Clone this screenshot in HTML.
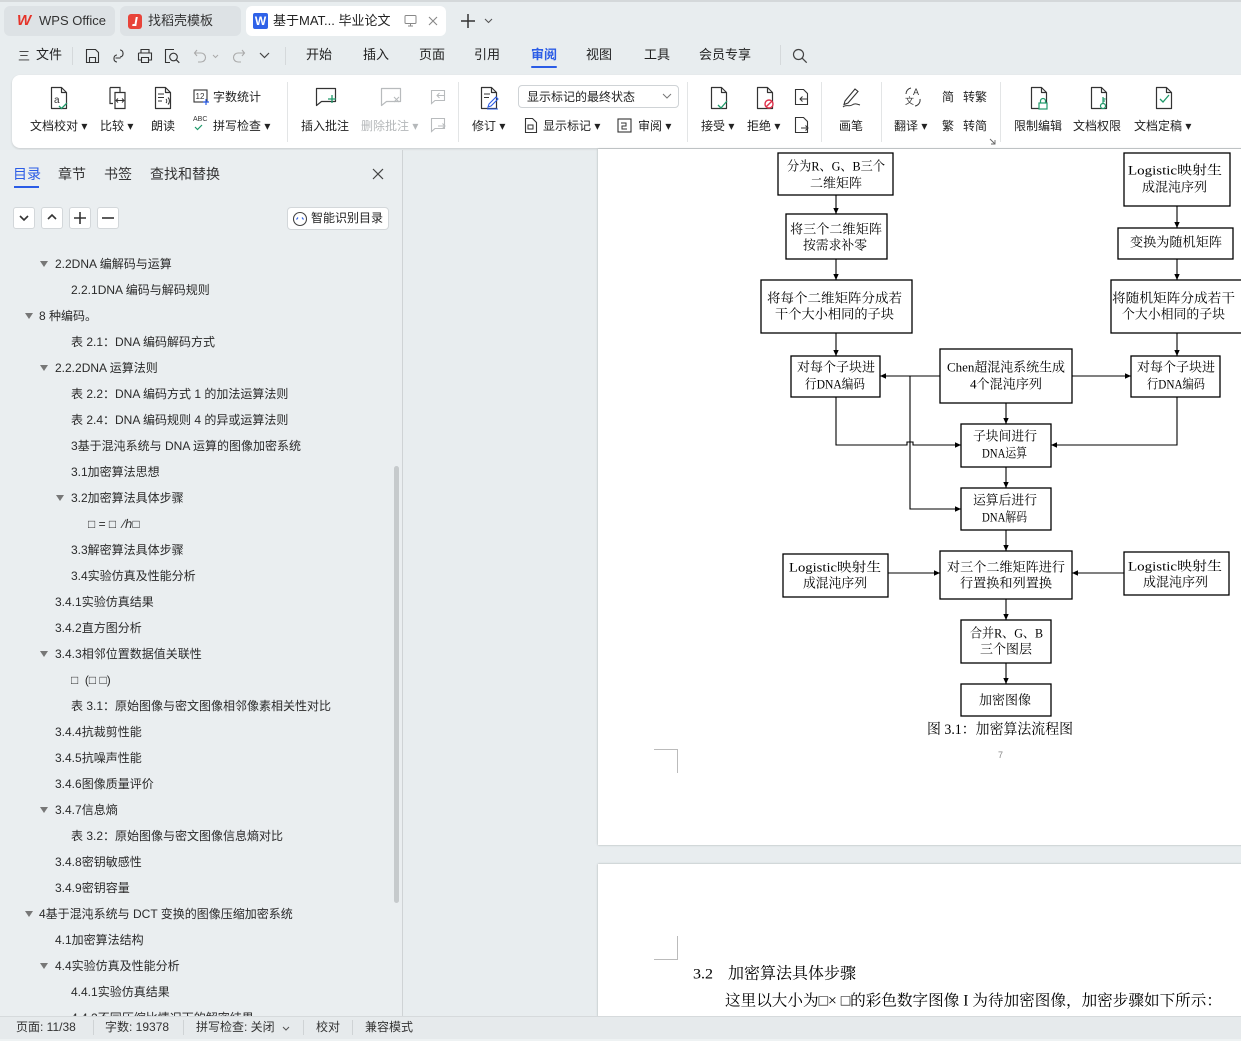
<!DOCTYPE html>
<html><head><meta charset="utf-8">
<style>
*{margin:0;padding:0;box-sizing:border-box}
body{width:1241px;height:1041px;overflow:hidden;background:#e8edef;font-family:"Liberation Sans","Noto Sans CJK SC",sans-serif;color:#222;position:relative}
.a{position:absolute;white-space:nowrap}
.t13{font-size:13px;line-height:16px}
.t12{font-size:12px;line-height:16px}
.toc{position:absolute;font-size:12px;line-height:16px;color:#2a2a2a;white-space:nowrap}
.tri{position:absolute;width:0;height:0;border-left:4px solid transparent;border-right:4px solid transparent;border-top:6px solid #777}
.sep{position:absolute;width:1px;background:#d5d9db}
.btn{position:absolute;width:22px;height:22px;border:1px solid #d3d7da;border-radius:3px;background:#fff}
svg.i{position:absolute;overflow:visible}
</style>
</head><body>

<svg width="0" height="0" style="position:absolute">
<defs>
<symbol id="doc" viewBox="0 0 20 24"><path d="M2.5 1.5h10l5 5v16h-15z M12.5 1.5v5h5" fill="none" stroke="#333" stroke-width="1.2" stroke-linejoin="round"/></symbol>
<symbol id="docg" viewBox="0 0 20 24"><path d="M2.5 1.5h10l5 5v16h-15z M12.5 1.5v5h5" fill="none" stroke="#b5b8ba" stroke-width="1.2" stroke-linejoin="round"/></symbol>
<symbol id="bub" viewBox="0 0 22 20"><path d="M1.5 1.5h19v13h-14l-5 4z" fill="none" stroke="#333" stroke-width="1.2" stroke-linejoin="round"/></symbol>
<symbol id="bubg" viewBox="0 0 22 20"><path d="M1.5 1.5h19v13h-14l-5 4z" fill="none" stroke="#b8bbbd" stroke-width="1.2" stroke-linejoin="round"/></symbol>
</defs>
</svg>

<!-- top title bar -->
<div class="a" style="left:0;top:0;width:1241px;height:2px;background:#d4d8da"></div>
<div class="a" style="left:4px;top:6px;width:111px;height:30px;background:#dde2e5;border-radius:6px"></div>
<div class="a" style="left:17px;top:12px;font:bold 15px 'Liberation Sans',sans-serif;color:#e5342a;font-style:italic">W</div>
<div class="a t13" style="left:39px;top:13px;color:#333">WPS Office</div>
<div class="a" style="left:120px;top:6px;width:121px;height:30px;background:#dde2e5;border-radius:6px"></div>
<div class="a" style="left:128px;top:14px;width:14px;height:15px;background:#e8443a;border-radius:3px"></div>
<div class="a" style="left:133px;top:17px;width:4px;height:9px;border-right:2px solid #fff;border-bottom:2px solid #fff;transform:skewX(-10deg)"></div>
<div class="a t13" style="left:148px;top:13px;color:#333">找稻壳模板</div>
<div class="a" style="left:246px;top:6px;width:200px;height:30px;background:#fff;border-radius:6px"></div>
<div class="a" style="left:253px;top:13px;width:15px;height:16px;background:#2f62e8;border-radius:2px;color:#fff;font:bold 12px/16px 'Liberation Sans',sans-serif;text-align:center">W</div>
<div class="a t13" style="left:273px;top:13px;color:#222">基于MAT... 毕业论文</div>
<svg class="i" style="left:404px;top:14px" width="13" height="13"><rect x="1" y="1.5" width="11" height="8" rx="1" fill="none" stroke="#888" stroke-width="1"/><path d="M6.5 9.5v2M4 12h5" stroke="#888"/></svg>
<svg class="i" style="left:428px;top:16px" width="10" height="10"><path d="M1 1l8 8M9 1l-8 8" stroke="#888" stroke-width="1.1"/></svg>
<svg class="i" style="left:461px;top:14px" width="14" height="14"><path d="M7 0v14M0 7h14" stroke="#333" stroke-width="1.5"/></svg>
<svg class="i" style="left:484px;top:18px" width="9" height="6"><path d="M1 1l3.5 3.5L8 1" fill="none" stroke="#555" stroke-width="1.1"/></svg>

<!-- menu row -->
<div class="a" style="left:18px;top:48px;font-size:12px;line-height:16px;color:#333">三</div>
<div class="a t13" style="left:36px;top:47px;color:#222">文件</div>
<div class="sep" style="left:72px;top:47px;height:18px"></div>
<svg class="i" style="left:85px;top:48px" width="15" height="16"><path d="M1.5 1.5h9l3 3v10h-12z M4.5 14.5v-5h6v5" fill="none" stroke="#333" stroke-width="1.1"/></svg>
<svg class="i" style="left:111px;top:48px" width="14" height="16"><path d="M9 2a3 3 0 0 1 3 3v1a3 3 0 0 1-3 3M6 7a3 3 0 0 0-3 3v1a3 3 0 0 0 3 3M4.5 10h5" fill="none" stroke="#333" stroke-width="1.1"/></svg>
<svg class="i" style="left:137px;top:48px" width="16" height="16"><path d="M4 5V1.5h8V5M1.5 5h13v7h-3M4.5 12h-3V5M4.5 9.5h7v5h-7z" fill="none" stroke="#333" stroke-width="1.1"/></svg>
<svg class="i" style="left:164px;top:48px" width="16" height="16"><path d="M10 1.5H1.5v13H6" fill="none" stroke="#333" stroke-width="1.1"/><circle cx="9.5" cy="9" r="3.8" fill="none" stroke="#333" stroke-width="1.1"/><path d="M12.3 11.8l3 3" stroke="#333" stroke-width="1.2"/></svg>
<svg class="i" style="left:193px;top:48px" width="14" height="16"><path d="M4 2L1.5 5 4 8M1.5 5H8a4.5 4.5 0 0 1 0 9H5" fill="none" stroke="#aaa" stroke-width="1.1"/></svg>
<svg class="i" style="left:212px;top:54px" width="7" height="5"><path d="M1 1l2.5 2.5L6 1" fill="none" stroke="#aaa"/></svg>
<svg class="i" style="left:232px;top:48px" width="14" height="16"><path d="M10 2l2.5 3L10 8M12.5 5H6a4.5 4.5 0 0 0 0 9h3" fill="none" stroke="#aaa" stroke-width="1.1"/></svg>
<svg class="i" style="left:259px;top:52px" width="11" height="7"><path d="M1 1l4.5 4.5L10 1" fill="none" stroke="#444" stroke-width="1.2"/></svg>
<div class="sep" style="left:285px;top:47px;height:18px"></div>
<div class="a t13" style="left:306px;top:47px;color:#222">开始</div>
<div class="a t13" style="left:363px;top:47px;color:#222">插入</div>
<div class="a t13" style="left:419px;top:47px;color:#222">页面</div>
<div class="a t13" style="left:474px;top:47px;color:#222">引用</div>
<div class="a t13" style="left:531px;top:47px;color:#2b5ce6;font-weight:bold">审阅</div>
<div class="a" style="left:531px;top:66px;width:26px;height:2px;background:#2b5ce6;border-radius:1px"></div>
<div class="a t13" style="left:586px;top:47px;color:#222">视图</div>
<div class="a t13" style="left:644px;top:47px;color:#222">工具</div>
<div class="a t13" style="left:699px;top:47px;color:#222">会员专享</div>
<div class="sep" style="left:780px;top:45px;height:20px"></div>
<svg class="i" style="left:792px;top:48px" width="16" height="16"><circle cx="6.5" cy="6.5" r="5" fill="none" stroke="#444" stroke-width="1.2"/><path d="M10.2 10.2l4.5 4.5" stroke="#444" stroke-width="1.3"/></svg>

<!-- ribbon -->
<div class="a" style="left:12px;top:75px;width:1240px;height:73px;background:#fff;border-radius:8px 0 0 8px;box-shadow:0 1px 2px rgba(0,0,0,.14)"></div>
<svg class="i" style="left:49px;top:86px" width="20" height="24"><use href="#doc" width="20" height="24"/><text x="5" y="17" font-size="10" font-family="Liberation Sans" fill="#333">a</text><path d="M10 20l2.5 2.5L18 17" fill="none" stroke="#1f9a6a" stroke-width="1.3"/></svg>
<div class="a t12" style="left:30px;top:118px">文档校对 ▾</div>
<svg class="i" style="left:107px;top:86px" width="20" height="24"><path d="M3 1.5h10v5M3 1.5v16h3M8 6.5h10v16H8z" fill="none" stroke="#333" stroke-width="1.2"/><path d="M9.5 14.5h7M11 12.5l-2 2 2 2M15 12.5l2 2-2 2" fill="none" stroke="#333" stroke-width="1"/></svg>
<div class="a t12" style="left:100px;top:118px">比较 ▾</div>
<svg class="i" style="left:153px;top:86px" width="20" height="24"><use href="#doc" width="20" height="24"/><path d="M5 8h6M5 11.5h6M5 15h4M13 13a3 3 0 0 1 0 4M15 11.5a5 5 0 0 1 0 7" fill="none" stroke="#333" stroke-width="1"/></svg>
<div class="a t12" style="left:151px;top:118px">朗读</div>
<svg class="i" style="left:193px;top:89px" width="16" height="16"><rect x="1" y="1" width="13" height="12" fill="none" stroke="#333" stroke-width="1.1"/><text x="2.5" y="10" font-size="8" font-family="Liberation Sans" fill="#333">12</text><path d="M13 10v6M10 13h6" stroke="#2b5ce6" stroke-width="1.2"/></svg>
<div class="a t12" style="left:213px;top:89px">字数统计</div>
<div class="a" style="left:193px;top:116px;font:7px 'Liberation Sans',sans-serif;color:#333">ABC</div>
<svg class="i" style="left:194px;top:124px" width="10" height="7"><path d="M1 3l2.5 2.5L8 1" fill="none" stroke="#1f9a6a" stroke-width="1.2"/></svg>
<div class="a t12" style="left:213px;top:118px">拼写检查 ▾</div>
<div class="sep" style="left:287px;top:82px;height:60px;background:#e3e5e6"></div>
<svg class="i" style="left:315px;top:87px" width="22" height="20"><use href="#bub" width="22" height="20"/><path d="M13 12h8M17 8v8" stroke="#1f9a6a" stroke-width="1.3"/></svg>
<div class="a t12" style="left:301px;top:118px">插入批注</div>
<svg class="i" style="left:380px;top:87px" width="22" height="20"><use href="#bubg" width="22" height="20"/><path d="M14 10l5 5M19 10l-5 5" stroke="#b8bbbd" stroke-width="1.1"/></svg>
<div class="a t12" style="left:361px;top:118px;color:#b5b8ba">删除批注 ▾</div>
<svg class="i" style="left:430px;top:89px" width="16" height="16"><path d="M1.5 1.5h13v10H5l-3.5 3z" fill="none" stroke="#b8bbbd" stroke-width="1.1"/><path d="M7 6.5h7M9.5 4l-2.5 2.5 2.5 2.5" fill="none" stroke="#b8bbbd"/></svg>
<svg class="i" style="left:430px;top:117px" width="16" height="16"><path d="M1.5 1.5h13v10H5l-3.5 3z" fill="none" stroke="#b8bbbd" stroke-width="1.1"/><path d="M8 9h7M12.5 6.5l2.5 2.5-2.5 2.5" fill="none" stroke="#b8bbbd"/></svg>
<div class="sep" style="left:458px;top:82px;height:60px;background:#e3e5e6"></div>
<svg class="i" style="left:479px;top:86px" width="20" height="24"><use href="#doc" width="20" height="24"/><path d="M5 8h6M5 11.5h5" stroke="#333"/><path d="M9 21l1-3 7-7 2 2-7 7zM8 23h11" fill="none" stroke="#2b5ce6" stroke-width="1.1"/></svg>
<div class="a t12" style="left:472px;top:118px">修订 ▾</div>
<div class="a" style="left:518px;top:85px;width:161px;height:23px;border:1px solid #cfd3d6;border-radius:4px;background:#fff"></div>
<div class="a t12" style="left:527px;top:89px;color:#222">显示标记的最终状态</div>
<svg class="i" style="left:662px;top:93px" width="10" height="6"><path d="M1 1l4 4 4-4" fill="none" stroke="#777"/></svg>
<svg class="i" style="left:524px;top:117px" width="14" height="17"><path d="M1.5 1.5h7l4 4v10h-11z" fill="none" stroke="#333" stroke-width="1.1"/><path d="M4 8h5v4H4z" fill="none" stroke="#333"/></svg>
<div class="a t12" style="left:543px;top:118px">显示标记 ▾</div>
<svg class="i" style="left:617px;top:118px" width="15" height="15"><rect x="1" y="1" width="13" height="13" fill="none" stroke="#333" stroke-width="1.1"/><path d="M4 5h5v3H5v3h5" fill="none" stroke="#333"/></svg>
<div class="a t12" style="left:638px;top:118px">审阅 ▾</div>
<div class="sep" style="left:687px;top:82px;height:60px;background:#e3e5e6"></div>
<svg class="i" style="left:709px;top:86px" width="20" height="24"><use href="#doc" width="20" height="24"/><path d="M9 19l3 3 6-7" fill="none" stroke="#1f9a6a" stroke-width="1.3"/></svg>
<div class="a t12" style="left:701px;top:118px">接受 ▾</div>
<svg class="i" style="left:755px;top:86px" width="20" height="24"><use href="#doc" width="20" height="24"/><circle cx="14" cy="18" r="4" fill="#fff" stroke="#e0314b" stroke-width="1.4"/><path d="M11.2 20.8l5.6-5.6" stroke="#e0314b" stroke-width="1.4"/></svg>
<div class="a t12" style="left:747px;top:118px">拒绝 ▾</div>
<svg class="i" style="left:794px;top:88px" width="15" height="18"><path d="M1.5 1.5h8l4 4v11h-12z" fill="none" stroke="#333" stroke-width="1.1"/><path d="M6 11h7M8.5 8.5L6 11l2.5 2.5" fill="none" stroke="#333"/></svg>
<svg class="i" style="left:794px;top:116px" width="15" height="18"><path d="M1.5 1.5h8l4 4v11h-12z" fill="none" stroke="#333" stroke-width="1.1"/><path d="M7 12h7M11.5 9.5L14 12l-2.5 2.5" fill="none" stroke="#333"/></svg>
<div class="sep" style="left:821px;top:82px;height:60px;background:#e3e5e6"></div>
<svg class="i" style="left:840px;top:86px" width="22" height="22"><path d="M5 15L15 3l3 2.5L8 17l-4 1.5z" fill="none" stroke="#333" stroke-width="1.1"/><path d="M3 21c3-3 6 0 9-2s5-1 8 0" fill="none" stroke="#333" stroke-width="1"/></svg>
<div class="a t12" style="left:839px;top:118px">画笔</div>
<div class="sep" style="left:881px;top:82px;height:60px;background:#e3e5e6"></div>
<svg class="i" style="left:903px;top:86px" width="20" height="22"><text x="10" y="9" font-size="9" font-family="Liberation Sans" fill="#333">A</text><text x="2" y="18" font-size="9" font-family="Noto Sans CJK SC" fill="#333">文</text><path d="M3 8a6 6 0 0 1 5-6M17 13a6 6 0 0 1-5 7" fill="none" stroke="#333"/></svg>
<div class="a t12" style="left:894px;top:118px">翻译 ▾</div>
<div class="a t12" style="left:942px;top:89px">简</div>
<div class="a t12" style="left:963px;top:89px">转繁</div>
<div class="a t12" style="left:942px;top:118px">繁</div>
<div class="a t12" style="left:963px;top:118px">转简</div>
<svg class="i" style="left:989px;top:138px" width="7" height="7"><path d="M1 1l5 5M6 2v4H2" fill="none" stroke="#666" stroke-width=".9"/></svg>
<div class="sep" style="left:1000px;top:82px;height:60px;background:#e3e5e6"></div>
<svg class="i" style="left:1029px;top:86px" width="20" height="24"><use href="#doc" width="20" height="24"/><rect x="10" y="17" width="8" height="6" fill="#fff" stroke="#1f9a6a" stroke-width="1.2"/><path d="M11.5 17v-2a2.5 2.5 0 0 1 5 0v2" fill="none" stroke="#1f9a6a" stroke-width="1.2"/></svg>
<div class="a t12" style="left:1014px;top:118px">限制编辑</div>
<svg class="i" style="left:1089px;top:86px" width="20" height="24"><use href="#doc" width="20" height="24"/><circle cx="14" cy="20" r="2.5" fill="#fff" stroke="#1f9a6a" stroke-width="1.2"/><path d="M14 17.5V11M14 13h2.5M14 15h2" fill="none" stroke="#1f9a6a" stroke-width="1.2"/></svg>
<div class="a t12" style="left:1073px;top:118px">文档权限</div>
<svg class="i" style="left:1154px;top:86px" width="20" height="24"><use href="#doc" width="20" height="24"/><path d="M6 13l3 3 6-7" fill="none" stroke="#1f9a6a" stroke-width="1.3"/></svg>
<div class="a t12" style="left:1134px;top:118px">文档定稿 ▾</div>

<!-- left panel -->
<div class="a" style="left:0;top:150px;width:403px;height:866px;background:#eaeef0;border-right:1px solid #cfd3d5"></div>
<div class="a" style="left:13px;top:165px;font-size:14px;line-height:18px;color:#2b5ce6">目录</div>
<div class="a" style="left:14px;top:186px;width:25px;height:2px;background:#2b5ce6"></div>
<div class="a" style="left:58px;top:165px;font-size:14px;line-height:18px;color:#333">章节</div>
<div class="a" style="left:104px;top:165px;font-size:14px;line-height:18px;color:#333">书签</div>
<div class="a" style="left:150px;top:165px;font-size:14px;line-height:18px;color:#333">查找和替换</div>
<svg class="i" style="left:372px;top:168px" width="12" height="12"><path d="M1 1l10 10M11 1L1 11" stroke="#444" stroke-width="1.2"/></svg>
<div class="btn" style="left:13px;top:207px"></div>
<svg class="i" style="left:19px;top:215px" width="10" height="6"><path d="M1 1l4 4 4-4" fill="none" stroke="#333" stroke-width="1.6"/></svg>
<div class="btn" style="left:41px;top:207px"></div>
<svg class="i" style="left:47px;top:214px" width="10" height="6"><path d="M1 5l4-4 4 4" fill="none" stroke="#333" stroke-width="1.6"/></svg>
<div class="btn" style="left:69px;top:207px"></div>
<svg class="i" style="left:74px;top:212px" width="12" height="12"><path d="M6 0v12M0 6h12" stroke="#333" stroke-width="1.6"/></svg>
<div class="btn" style="left:97px;top:207px"></div>
<svg class="i" style="left:102px;top:212px" width="12" height="12"><path d="M0 6h12" stroke="#333" stroke-width="1.6"/></svg>
<div class="a" style="left:287px;top:207px;width:102px;height:23px;border:1px solid #d3d7da;border-radius:4px;background:#fff"></div>
<svg class="i" style="left:292px;top:211px" width="16" height="16"><circle cx="8" cy="8" r="6.5" fill="none" stroke="#444" stroke-width="1.1"/><path d="M4.5 8.5l1.5-2M11.5 8.5L10 6.5" stroke="#2b5ce6" stroke-width="1.1"/></svg>
<div class="a t12" style="left:311px;top:210px;color:#222">智能识别目录</div>

<div class="tri" style="left:40px;top:261px"></div><div class="toc" style="left:55px;top:256px">2.2DNA 编解码与运算</div>
<div class="toc" style="left:71px;top:282px">2.2.1DNA 编码与解码规则</div>
<div class="tri" style="left:25px;top:313px"></div><div class="toc" style="left:39px;top:308px">8 种编码。</div>
<div class="toc" style="left:71px;top:334px">表 2.1：DNA 编码解码方式</div>
<div class="tri" style="left:40px;top:365px"></div><div class="toc" style="left:55px;top:360px">2.2.2DNA 运算法则</div>
<div class="toc" style="left:71px;top:386px">表 2.2：DNA 编码方式 1 的加法运算法则</div>
<div class="toc" style="left:71px;top:412px">表 2.4：DNA 编码规则 4 的异或运算法则</div>
<div class="toc" style="left:71px;top:438px">3基于混沌系统与 DNA 运算的图像加密系统</div>
<div class="toc" style="left:71px;top:464px">3.1加密算法思想</div>
<div class="tri" style="left:56px;top:495px"></div><div class="toc" style="left:71px;top:490px">3.2加密算法具体步骤</div>
<div class="toc" style="left:88px;top:516px">□ = □ &nbsp;⁄ℎ□</div>
<div class="toc" style="left:71px;top:542px">3.3解密算法具体步骤</div>
<div class="toc" style="left:71px;top:568px">3.4实验仿真及性能分析</div>
<div class="toc" style="left:55px;top:594px">3.4.1实验仿真结果</div>
<div class="toc" style="left:55px;top:620px">3.4.2直方图分析</div>
<div class="tri" style="left:40px;top:651px"></div><div class="toc" style="left:55px;top:646px">3.4.3相邻位置数据值关联性</div>
<div class="toc" style="left:71px;top:672px">□ &nbsp;(□ □)</div>
<div class="toc" style="left:71px;top:698px">表 3.1：原始图像与密文图像相邻像素相关性对比</div>
<div class="toc" style="left:55px;top:724px">3.4.4抗裁剪性能</div>
<div class="toc" style="left:55px;top:750px">3.4.5抗噪声性能</div>
<div class="toc" style="left:55px;top:776px">3.4.6图像质量评价</div>
<div class="tri" style="left:40px;top:807px"></div><div class="toc" style="left:55px;top:802px">3.4.7信息熵</div>
<div class="toc" style="left:71px;top:828px">表 3.2：原始图像与密文图像信息熵对比</div>
<div class="toc" style="left:55px;top:854px">3.4.8密钥敏感性</div>
<div class="toc" style="left:55px;top:880px">3.4.9密钥容量</div>
<div class="tri" style="left:25px;top:911px"></div><div class="toc" style="left:39px;top:906px">4基于混沌系统与 DCT 变换的图像压缩加密系统</div>
<div class="toc" style="left:55px;top:932px">4.1加密算法结构</div>
<div class="tri" style="left:40px;top:963px"></div><div class="toc" style="left:55px;top:958px">4.4实验仿真及性能分析</div>
<div class="toc" style="left:71px;top:984px">4.4.1实验仿真结果</div>
<div class="toc" style="left:71px;top:1010px">4.4.2不同压缩比情况下的解密结果</div>
<div class="a" style="left:394px;top:466px;width:5px;height:437px;background:#c6cacc;border-radius:3px"></div>

<!-- pages -->
<div class="a" style="left:598px;top:149px;width:660px;height:696px;background:#fff;box-shadow:0 0 2px rgba(0,0,0,.28)"></div>
<div class="a" style="left:598px;top:864px;width:660px;height:170px;background:#fff;box-shadow:0 0 2px rgba(0,0,0,.28)"></div>
<div class="a" style="left:654px;top:749px;width:24px;height:24px;border-top:1px solid #bbb;border-right:1px solid #bbb"></div>
<div class="a" style="left:654px;top:936px;width:24px;height:24px;border-bottom:1px solid #bbb;border-right:1px solid #bbb"></div>

<svg class="i" style="left:0;top:0" width="1241" height="1041">
<defs>
<marker id="ar" markerWidth="6" markerHeight="6" refX="6" refY="3" orient="auto" markerUnits="userSpaceOnUse"><path d="M0,0.3 L6,3 L0,5.7 z" fill="#000"/></marker>
</defs>
<g fill="none" stroke="#000" stroke-width="1.1" marker-end="url(#ar)">
<path d="M836 195V214"/>
<path d="M836 259V280"/>
<path d="M836 333V356"/>
<path d="M1177 206V228"/>
<path d="M1177 259V280"/>
<path d="M1177 333V356"/>
<path d="M940 376H880"/>
<path d="M1072 376H1131"/>
<path d="M910 376V509H961"/>
<path d="M836 397V445H907V442H913V445H961"/>
<path d="M1177 397V445H1051"/>
<path d="M1006 403V424"/>
<path d="M1006 467V488"/>
<path d="M1006 530V551"/>
<path d="M888 573H940"/>
<path d="M1124 573H1072"/>
<path d="M1006 599V620"/>
<path d="M1006 663V684"/>
</g>
<g fill="#fff" stroke="#000" stroke-width="1.3">
<rect x="778" y="153" width="115" height="42"/>
<rect x="786" y="214" width="101" height="45"/>
<rect x="761" y="280" width="151" height="53"/>
<rect x="791" y="356" width="89" height="41"/>
<rect x="940" y="349" width="132" height="54"/>
<rect x="1131" y="356" width="89" height="41"/>
<rect x="1124" y="153" width="106" height="53"/>
<rect x="1118" y="228" width="115" height="31"/>
<rect x="1111" y="280" width="132" height="53"/>
<rect x="961" y="424" width="90" height="43"/>
<rect x="961" y="488" width="90" height="42"/>
<rect x="940" y="551" width="132" height="48"/>
<rect x="783" y="554" width="105" height="43"/>
<rect x="1124" y="552" width="105" height="43"/>
<rect x="961" y="620" width="90" height="43"/>
<rect x="961" y="684" width="90" height="32"/>
</g>
<g font-family="'Liberation Serif','Noto Serif CJK SC',serif" font-size="13" fill="#000">
<text x="787" y="170.5" textLength="98" lengthAdjust="spacingAndGlyphs">分为R、G、B三个</text>
<text x="810" y="187.5" textLength="52" lengthAdjust="spacingAndGlyphs">二维矩阵</text>
<text x="790" y="233.5" textLength="92" lengthAdjust="spacingAndGlyphs">将三个二维矩阵</text>
<text x="803" y="249.5" textLength="64" lengthAdjust="spacingAndGlyphs">按需求补零</text>
<text x="767" y="302.5" textLength="135" lengthAdjust="spacingAndGlyphs">将每个二维矩阵分成若</text>
<text x="775" y="318.5" textLength="119" lengthAdjust="spacingAndGlyphs">干个大小相同的子块</text>
<text x="797" y="371.5" textLength="78" lengthAdjust="spacingAndGlyphs">对每个子块进</text>
<text x="805" y="388.5" textLength="60" lengthAdjust="spacingAndGlyphs">行DNA编码</text>
<text x="947" y="371.5" textLength="118" lengthAdjust="spacingAndGlyphs">Chen超混沌系统生成</text>
<text x="970" y="388.5" textLength="72" lengthAdjust="spacingAndGlyphs">4个混沌序列</text>
<text x="1137" y="371.5" textLength="78" lengthAdjust="spacingAndGlyphs">对每个子块进</text>
<text x="1147" y="388.5" textLength="58" lengthAdjust="spacingAndGlyphs">行DNA编码</text>
<text x="1128" y="174.5" textLength="94" lengthAdjust="spacingAndGlyphs">Logistic映射生</text>
<text x="1142" y="191.5" textLength="65" lengthAdjust="spacingAndGlyphs">成混沌序列</text>
<text x="1130" y="246.5" textLength="92" lengthAdjust="spacingAndGlyphs">变换为随机矩阵</text>
<text x="1112" y="302.5" textLength="123" lengthAdjust="spacingAndGlyphs">将随机矩阵分成若干</text>
<text x="1122" y="318.5" textLength="103" lengthAdjust="spacingAndGlyphs">个大小相同的子块</text>
<text x="973" y="440.5" textLength="64" lengthAdjust="spacingAndGlyphs">子块间进行</text>
<text x="982" y="457.5" textLength="45" lengthAdjust="spacingAndGlyphs">DNA运算</text>
<text x="973" y="504.5" textLength="64" lengthAdjust="spacingAndGlyphs">运算后进行</text>
<text x="982" y="521.5" textLength="45" lengthAdjust="spacingAndGlyphs">DNA解码</text>
<text x="947" y="571.5" textLength="118" lengthAdjust="spacingAndGlyphs">对三个二维矩阵进行</text>
<text x="960" y="587.5" textLength="92" lengthAdjust="spacingAndGlyphs">行置换和列置换</text>
<text x="789" y="571.5" textLength="92" lengthAdjust="spacingAndGlyphs">Logistic映射生</text>
<text x="803" y="587.5" textLength="64" lengthAdjust="spacingAndGlyphs">成混沌序列</text>
<text x="1128" y="570.5" textLength="94" lengthAdjust="spacingAndGlyphs">Logistic映射生</text>
<text x="1143" y="586.5" textLength="65" lengthAdjust="spacingAndGlyphs">成混沌序列</text>
<text x="970" y="637.5" textLength="73" lengthAdjust="spacingAndGlyphs">合并R、G、B</text>
<text x="980" y="653.5" textLength="52" lengthAdjust="spacingAndGlyphs">三个图层</text>
<text x="979" y="704.5" textLength="52" lengthAdjust="spacingAndGlyphs">加密图像</text>
</g>
<text x="927" y="734" font-family="'Liberation Serif','Noto Serif CJK SC',serif" font-size="14.5" textLength="146" lengthAdjust="spacingAndGlyphs">图 3.1：加密算法流程图</text>
<text x="998" y="758" font-family="'Liberation Sans',sans-serif" font-size="9" fill="#888">7</text>
<text x="693" y="978.5" font-family="'Liberation Serif','Noto Serif CJK SC',serif" font-size="15" textLength="20" lengthAdjust="spacingAndGlyphs">3.2</text>
<text x="728" y="978.5" font-family="'Liberation Serif','Noto Serif CJK SC',serif" font-size="16" textLength="128" lengthAdjust="spacingAndGlyphs">加密算法具体步骤</text>
<text x="725" y="1005.5" font-family="'Liberation Serif','Noto Serif CJK SC',serif" font-size="15.5" textLength="497" lengthAdjust="spacingAndGlyphs">这里以大小为□× □的彩色数字图像 I 为待加密图像，加密步骤如下所示：</text>
</svg>

<!-- status bar -->
<div class="a" style="left:0;top:1016px;width:1241px;height:25px;background:#e6eaec;border-top:1px solid #d6dadc"></div>
<div class="a" style="left:0;top:1039px;width:1241px;height:2px;background:#eef2f3"></div>
<div class="a t12" style="left:16px;top:1019px;color:#333">页面: 11/38</div>
<div class="sep" style="left:93px;top:1020px;height:15px;background:#cfd3d5"></div>
<div class="a t12" style="left:105px;top:1019px;color:#333">字数: 19378</div>
<div class="sep" style="left:183px;top:1020px;height:15px;background:#cfd3d5"></div>
<div class="a t12" style="left:196px;top:1019px;color:#333">拼写检查: 关闭</div>
<svg class="i" style="left:282px;top:1026px" width="8" height="5"><path d="M1 1l3 3 3-3" fill="none" stroke="#555"/></svg>
<div class="sep" style="left:303px;top:1020px;height:15px;background:#cfd3d5"></div>
<div class="a t12" style="left:316px;top:1019px;color:#333">校对</div>
<div class="sep" style="left:352px;top:1020px;height:15px;background:#cfd3d5"></div>
<div class="a t12" style="left:365px;top:1019px;color:#333">兼容模式</div>
</body></html>
